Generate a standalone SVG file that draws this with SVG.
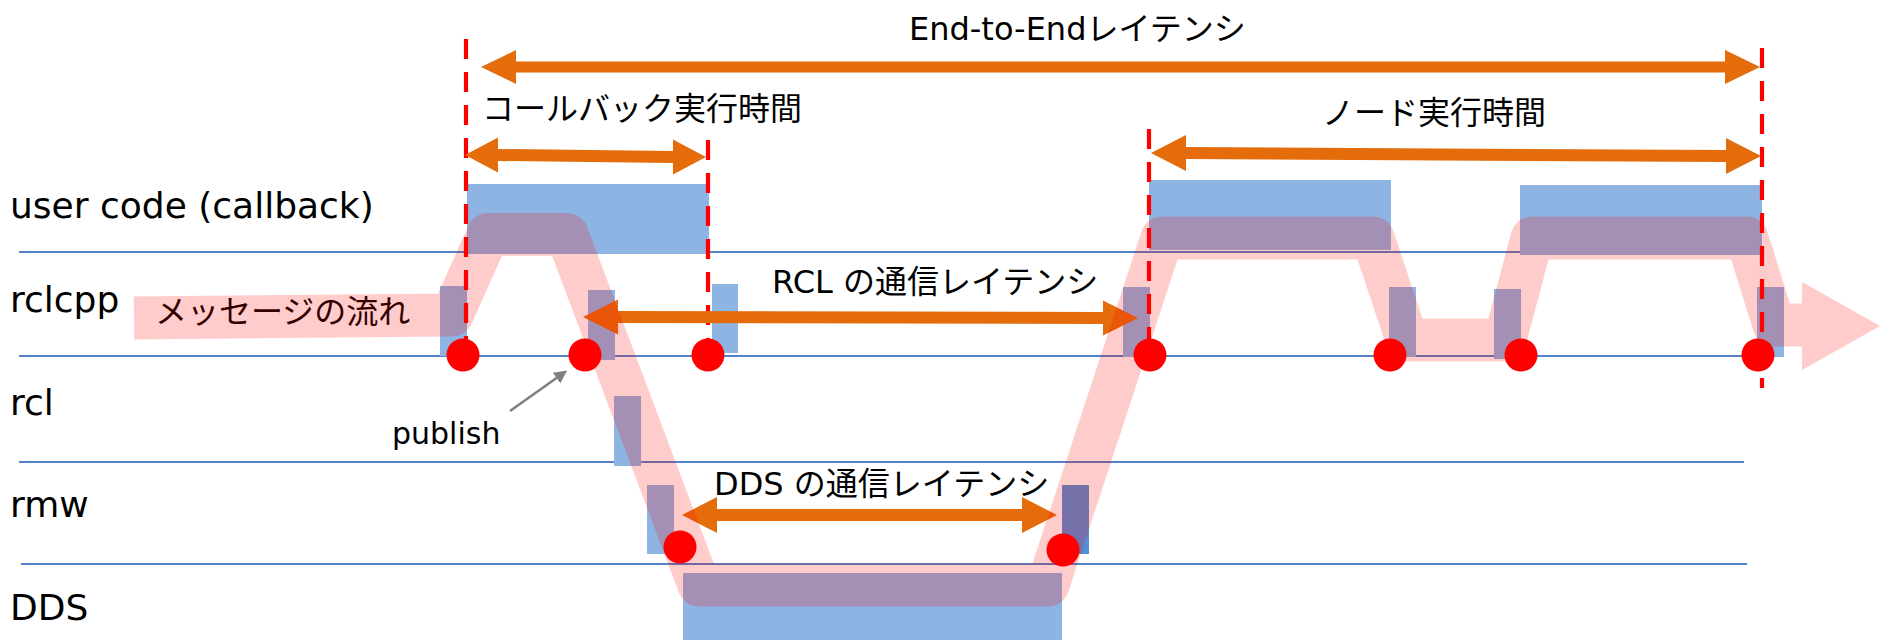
<svg xmlns="http://www.w3.org/2000/svg" width="1880" height="640" viewBox="0 0 1880 640">
<defs>
<style>
.lane{stroke:#5283C8;stroke-width:2.2;fill:none}
.lbl{font-family:"DejaVu Sans","Noto Sans CJK JP",sans-serif;font-size:36px;fill:#000}
.cap{font-family:"DejaVu Sans","Noto Sans CJK JP",sans-serif;font-size:32px;fill:#000}
.box{fill:#8EB4E3}
.box2{fill:#558ED5}
.dash{stroke:#FF0000;stroke-width:4.2;stroke-dasharray:20 13;fill:none}
.dot{fill:#FF0000}
.oarr{fill:#E46C0A}
</style>
<marker id="gh" viewBox="0 0 10 10" refX="8" refY="5" markerWidth="5" markerHeight="5" orient="auto" markerUnits="strokeWidth">
<path d="M0,0 L10,5 L0,10 z" fill="#808080"/>
</marker>
</defs>
<rect width="1880" height="640" fill="#fff"/>

<g id="lanes">
<line class="lane" x1="19" y1="252" x2="1762" y2="252"/>
<line class="lane" x1="19" y1="356" x2="1784" y2="356"/>
<line class="lane" x1="19" y1="462" x2="1744" y2="462"/>
<line class="lane" x1="21" y1="564" x2="1747" y2="564"/>
</g>

<g id="lane-labels">
<text class="lbl" x="10" y="218">user code (callback)</text>
<text class="lbl" x="10" y="312">rclcpp</text>
<text class="lbl" x="10" y="415">rcl</text>
<text class="lbl" x="10" y="517">rmw</text>
<text class="lbl" x="10" y="620">DDS</text>
</g>

<g id="boxes">
<rect id="cb1" class="box" x="467" y="184" width="242" height="70"/>
<rect id="cb2" class="box" x="1149" y="180" width="242" height="70"/>
<rect id="cb3" class="box" x="1520" y="185" width="242" height="70"/>
<rect class="box" x="440" y="286" width="27" height="70"/>
<rect class="box" x="588" y="290" width="27" height="70"/>
<rect class="box" x="712" y="284" width="26" height="69"/>
<rect class="box" x="1123" y="287" width="27" height="70"/>
<rect class="box" x="1389" y="287" width="27" height="70"/>
<rect class="box" x="1494" y="289" width="27" height="70"/>
<rect class="box" x="1757" y="287" width="27" height="70"/>
<rect id="rcl-box" class="box" x="614" y="396" width="27" height="70"/>
<rect id="rmw-box1" class="box" x="647" y="485" width="27" height="69"/>
<rect id="rmw-box2" class="box2" x="1062" y="485" width="27" height="69"/>
<rect id="dds-box" class="box" x="683" y="573" width="379" height="67"/>
</g>

<g id="dashes">
<line class="dash" x1="466" y1="39" x2="466" y2="355"/>
<line class="dash" x1="708" y1="140" x2="708" y2="355"/>
<line class="dash" x1="1149" y1="129" x2="1149" y2="355"/>
<line class="dash" x1="1762" y1="48" x2="1762" y2="388"/>
</g>

<g id="connectors">
<polygon id="e2e-arrow" class="oarr" points="481,67 516,50 516,61.5 1725,61.5 1725,50 1760,67 1725,84 1725,72.5 516,72.5 516,84"/>
<polygon id="cb-arrow" class="oarr" points="465,155 498,137.5 498,149 673,151 673,139.5 706,157 673,174.5 673,163 498,161 498,172.5"/>
<polygon id="node-arrow" class="oarr" points="1151,153 1186,135 1186,147 1726,150 1726,138 1761,156 1726,174 1726,162 1186,159 1186,171"/>
<polygon id="rcl-arrow" class="oarr" points="583,317 618,299.5 618,311 1103,312 1103,300.5 1138,318 1103,335.5 1103,324 618,323 618,334.5"/>
<polygon id="dds-arrow" class="oarr" points="682,515 717,497 717,509 1022,509 1022,497 1057,515 1022,533 1022,521 717,521 717,533"/>
<line id="publish-arrow" x1="510" y1="411" x2="565" y2="372" stroke="#808080" stroke-width="2.6" marker-end="url(#gh)"/>
</g>

<g id="captions">
<text class="cap" x="909" y="40">End-to-Endレイテンシ</text>
<text class="cap" x="482" y="120">コールバック実行時間</text>
<text class="cap" x="1322" y="124">ノード実行時間</text>
<text class="cap" x="772" y="293">RCL の通信レイテンシ</text>
<text class="cap" x="714" y="495">DDS の通信レイテンシ</text>
<text class="cap" x="392" y="444" style="font-size:30px">publish</text>
<text class="cap" x="155" y="323">メッセージの流れ</text>
</g>

<g id="points">
<circle class="dot" cx="463" cy="355" r="16.5"/>
<circle class="dot" cx="585" cy="355" r="16.5"/>
<circle class="dot" cx="708" cy="355" r="16.5"/>
<circle class="dot" cx="680" cy="547" r="16.5"/>
<circle class="dot" cx="1063" cy="550" r="16.5"/>
<circle class="dot" cx="1150" cy="355" r="16.5"/>
<circle class="dot" cx="1390" cy="355" r="16.5"/>
<circle class="dot" cx="1521" cy="355" r="16.5"/>
<circle class="dot" cx="1758" cy="355" r="16.5"/>
</g>

<g id="message-flow" opacity="0.2">
<path d="M134,318 L452,315 L488,234.5 L567,234.5 L699,585 L1048,585 L1162,238 L1373,238 L1407,340 L1505,340 L1532,238 L1747,238 L1774,325 L1804,325" fill="none" stroke="#FF0000" stroke-width="43" stroke-linejoin="round" stroke-linecap="butt"/>
<polygon points="1802,282 1880,326 1802,370" fill="#FF0000"/>
</g>
</svg>
